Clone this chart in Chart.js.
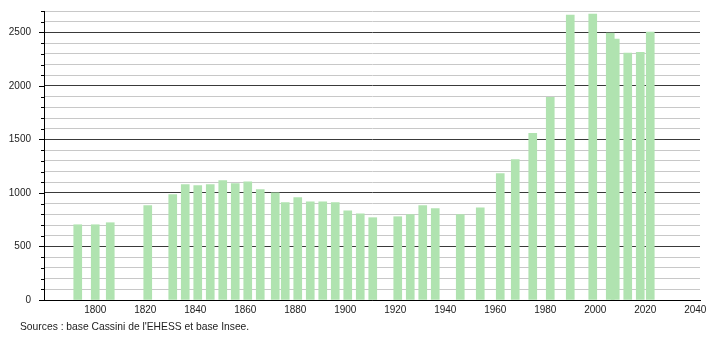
<!DOCTYPE html>
<html>
<head>
<meta charset="utf-8">
<script src="https://cdn.jsdelivr.net/npm/chart.js@4/dist/chart.umd.min.js"></script>
<style>
  html, body { margin: 0; padding: 0; background: #fff; }
  #wrap { position: relative; width: 710px; height: 340px; }
  #src { position: absolute; left: 20px; top: 321px; font: 10.3px "Liberation Sans", Arial, sans-serif; color: #222; white-space: nowrap; }
</style>
</head>
<body>
<div id="wrap">
  <canvas id="c" width="710" height="340"></canvas>
  <div id="src">Sources : base Cassini de l'EHESS et base Insee.</div>
</div>
<script>
const years = [1793,1800,1806,1821,1831,1836,1841,1846,1851,1856,1861,1866,1872,1876,1881,1886,1891,1896,1901,1906,1911,1921,1926,1931,1936,1946,1954,1962,1968,1975,1982,1990,1999,2006,2008,2013,2018,2022];
const population = [703,703,722,881,984,1078,1068,1078,1115,1087,1103,1031,1002,909,956,918,916,909,834,806,769,778,797,881,853,797,862,1181,1312,1556,1893,2662,2671,2493,2437,2306,2315,2502];
const yTickLabels = [0,500,1000,1500,2000,2500];
const xTickLabels = [1800,1820,1840,1860,1880,1900,1920,1940,1960,1980,2000,2020,2040];

const points = years.map((y, i) => ({x: y, y: population[i]}));

const yAxisTicks = {
  id: 'yAxisTicks',
  afterDraw(chart) {
    const ys = chart.scales.y;
    const ctx = chart.ctx;
    const x0 = chart.chartArea.left;
    ctx.save();
    ctx.strokeStyle = '#000';
    ctx.lineWidth = 1;
    ys.ticks.forEach(t => {
      const py = Math.round(ys.getPixelForValue(t.value)) + 0.5;
      const len = (t.value % 500 === 0) ? 5 : 3;
      ctx.beginPath();
      ctx.moveTo(x0 - len, py);
      ctx.lineTo(x0, py);
      ctx.stroke();
    });
    ctx.restore();
  }
};

new Chart(document.getElementById('c'), {
  type: 'bar',
  data: {
    datasets: [{
      data: points,
      backgroundColor: '#b0e3b0',
      borderWidth: 0,
      barThickness: 8
    }]
  },
  options: {
    responsive: false,
    animation: false,
    layout: { padding: { left: 0, top: 11, right: 10, bottom: 0 } },
    plugins: { legend: { display: false }, tooltip: { enabled: false } },
    scales: {
      x: {
        type: 'linear',
        offset: false,
        min: 1779.5,
        max: 2041.9,
        grid: { display: false, drawTicks: false, offset: false },
        border: { display: true, color: '#000', width: 1 },
        ticks: {
          stepSize: 20,
          includeBounds: false,
          autoSkip: false,
          maxRotation: 0,
          padding: 4,
          color: '#222',
          font: { family: '"Liberation Sans", Arial, sans-serif', size: 10 },
          callback: v => xTickLabels.includes(v) ? String(v) : ''
        },
        afterFit(s) { s.height = 40; s.paddingLeft = 0; s.paddingRight = 0; }
      },
      y: {
        min: 0,
        max: 2700,
        grid: {
          drawTicks: false,
          color: c => (c.tick && c.tick.value % 500 === 0) ? '#3a3a3a' : '#c8c8c8',
          lineWidth: 1
        },
        border: { display: true, color: '#000', width: 1 },
        ticks: {
          stepSize: 100,
          autoSkip: false,
          padding: 13,
          color: '#222',
          font: { family: '"Liberation Sans", Arial, sans-serif', size: 10 },
          callback: v => yTickLabels.includes(v) ? String(v) : ''
        },
        afterFit(s) { s.width = 44; s.paddingTop = 0; s.paddingBottom = 0; }
      }
    }
  },
  plugins: [yAxisTicks]
});
</script>
</body>
</html>
